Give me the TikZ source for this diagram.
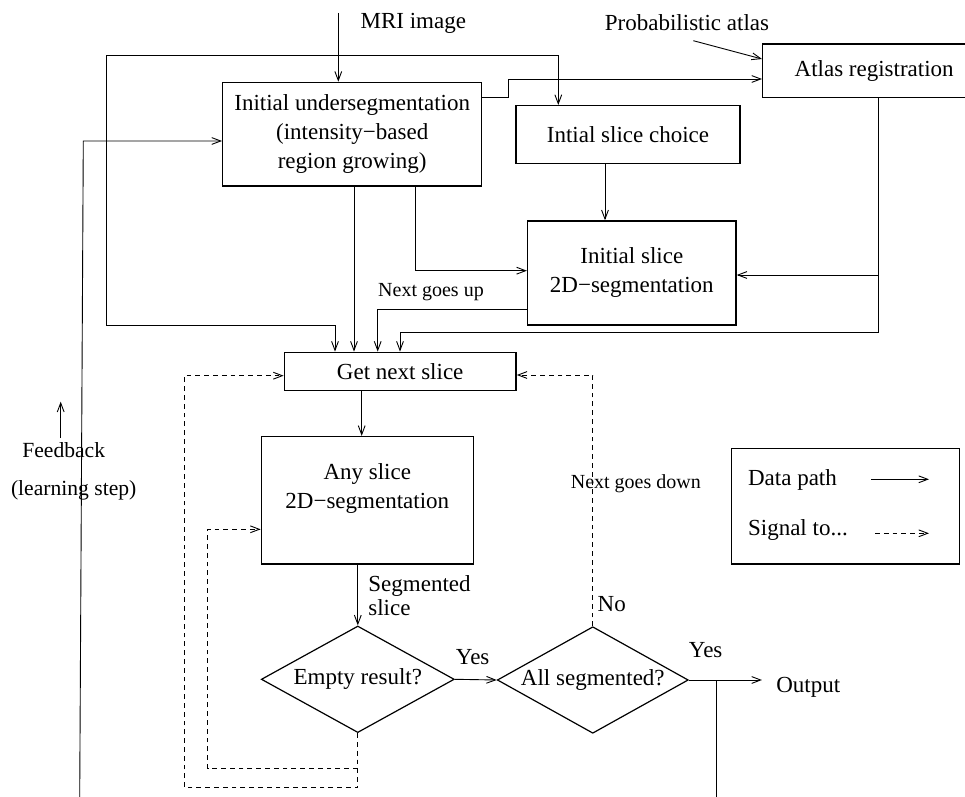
\documentclass[tikz,border=0pt]{standalone}
\usepackage{fontspec}
\setmainfont{Liberation Serif}
\usetikzlibrary{arrows.meta,shapes.geometric}

\begin{document}
\begin{tikzpicture}[
x=0.5pt, y=-0.5pt,
box/.style={draw, line width=0.7pt, inner sep=0pt, align=center,
  font=\fontsize{11.5}{14.5}\selectfont},
decision/.style={draw, line width=0.6pt, shape=diamond, aspect=1.8,
  inner sep=0pt, font=\fontsize{11.5}{14}\selectfont},
txt/.style={inner sep=0pt, font=\fontsize{11.5}{14}\selectfont},
smalltxt/.style={inner sep=0pt, font=\fontsize{10}{12}\selectfont},
data/.style={line width=0.45pt, -{Straight Barb[length=4.5pt,width=3.4pt]}},
signal/.style={data, dash pattern=on 2.4pt off 2pt},
]
\useasboundingbox (0,0) rectangle (965,797);

% блоки
\node[box, minimum width=129.5pt, minimum height=51.8pt] (under) at (352.2,134.2)
  {Initial undersegmentation\\(intensity−based\\region growing)};
\node[box, minimum width=112pt, minimum height=28.8pt] (choice) at (628,134.5)
  {Intial slice choice};
\node[box, minimum width=111.5pt, minimum height=26.9pt] (atlas) at (874.2,70.8)
  {Atlas registration};
\node[box, minimum width=104.2pt, minimum height=52pt] (init2d) at (631.8,273)
  {Initial slice\\2D−segmentation};
\node[box, minimum width=115.9pt, minimum height=19.2pt] (next) at (400.2,371.5)
  {Get next slice};
\node[box, minimum width=106pt, minimum height=63.7pt] (any) at (367.3,500.3)
  {Any slice\\2D−segmentation\\\mbox{}};
\node[decision, minimum width=96.5pt, minimum height=53.3pt] (empty) at (357.8,679.3)
  {Empty result?};
\node[decision, minimum width=95.5pt, minimum height=53.3pt] (allseg) at (592.8,680)
  {All segmented?};

% подписи
\node[txt] (mritxt) at (413.3,23) {MRI image};
\node[txt] (probtxt) at (687,23) {Probabilistic atlas};
\node[smalltxt] (uptxt) at (431,292.3) {Next goes up};
\node[smalltxt] (downtxt) at (635.8,484) {Next goes down};
\node[txt, anchor=west, align=left, font=\fontsize{11.5}{12}\selectfont] (segtxt)
  at (368,596) {Segmented\\slice};
\node[txt] (yes1) at (472.7,657.3) {Yes};
\node[txt] (yes2) at (705.7,650) {Yes};
\node[txt] (notxt) at (611.7,604) {No};
\node[txt, inner xsep=7pt] (output) at (808.3,687.3) {Output};
\node[txt, font=\fontsize{10.8}{13}\selectfont, inner sep=2pt] (fbtxt) at (63.7,450) {Feedback};
\node[txt, font=\fontsize{10.8}{13}\selectfont] (learntxt) at (73.7,490) {(learning step)};

\coordinate (mri) at (338.3,13);
\coordinate (probarr) at (693.3,40.7);
\coordinate (fb) at (79.7,797);
\coordinate (outdown) at (716.7,797);

% сплошные связи
\draw[data] (mri) -- (under.north -| mri);
\draw[data] (probarr) -- (atlas.west |- 0,59);
\draw[data] (under.east |- 0,97.7) -- (508.3,97.7) |- (atlas.west |- 0,79);
\draw[data, {Straight Barb[length=4.5pt,width=3.4pt]}-{Straight Barb[length=4.5pt,width=3.4pt]}]
  (choice.north -| 558.3,0) |- (106.7,55.7) -- (106.7,325) -| (next.north -| 335,0);
\draw[data] (fb) -- (83.3,141) -- (under.west |- 0,141);
\draw[data] (fbtxt.north -| 60.7,0) -- (60.7,401.7);
\draw[data] (choice.south -| 605,0) -- (init2d.north -| 605,0);
\draw[data] (under.south -| 415.7,0) |- (init2d.west |- 0,270.7);
\draw[data] (under.south -| 354,0) -- (next.north -| 354,0);
\draw[data] (init2d.west |- 0,309.3) -| (next.north -| 377.7,0);
\draw[line width=0.45pt] (atlas.south -| 878.3,0) -- (878.3,332.7);
\draw[data] (878.3,275) -- (init2d.east |- 0,275);
\draw[data] (878.3,332.7) -| (next.north -| 400,0);
\draw[data] (next.south -| 361.7,0) -- (any.north -| 361.7,0);
\draw[data] (any.south -| empty.north) -- (empty.north);
\draw[data] (empty.east) -- (allseg.west);
\draw[data] (allseg.east) -- (output.west |- allseg.east);
\draw[line width=0.45pt] (716.7,0 |- allseg.east) -- (outdown);

% пунктир
\draw[signal] (allseg.north) |- (next.east |- 0,375);
\draw[signal] (empty.south) |- (184.3,787.7) |- (next.west |- 0,375.7);
\draw[signal] (empty.south) |- (207.7,768.3) |- (any.west |- 0,529.3);

% легенда
\node[box, line width=0.6pt, minimum width=113.8pt, minimum height=57.8pt] (legend)
  at (845.5,506.2) {};
\node[txt, anchor=west] (datatxt) at (747.7,480) {Data path};
\node[txt, anchor=west] (sigtxt) at (747.7,530) {Signal to...};
\coordinate (d1) at (871,479.3);
\coordinate (d2) at (929,479.3);
\coordinate (s1) at (875,533.3);
\coordinate (s2) at (929,533.3);
\draw[data] (d1) -- (d2);
\draw[signal] (s1) -- (s2);
\end{tikzpicture}
\end{document}
